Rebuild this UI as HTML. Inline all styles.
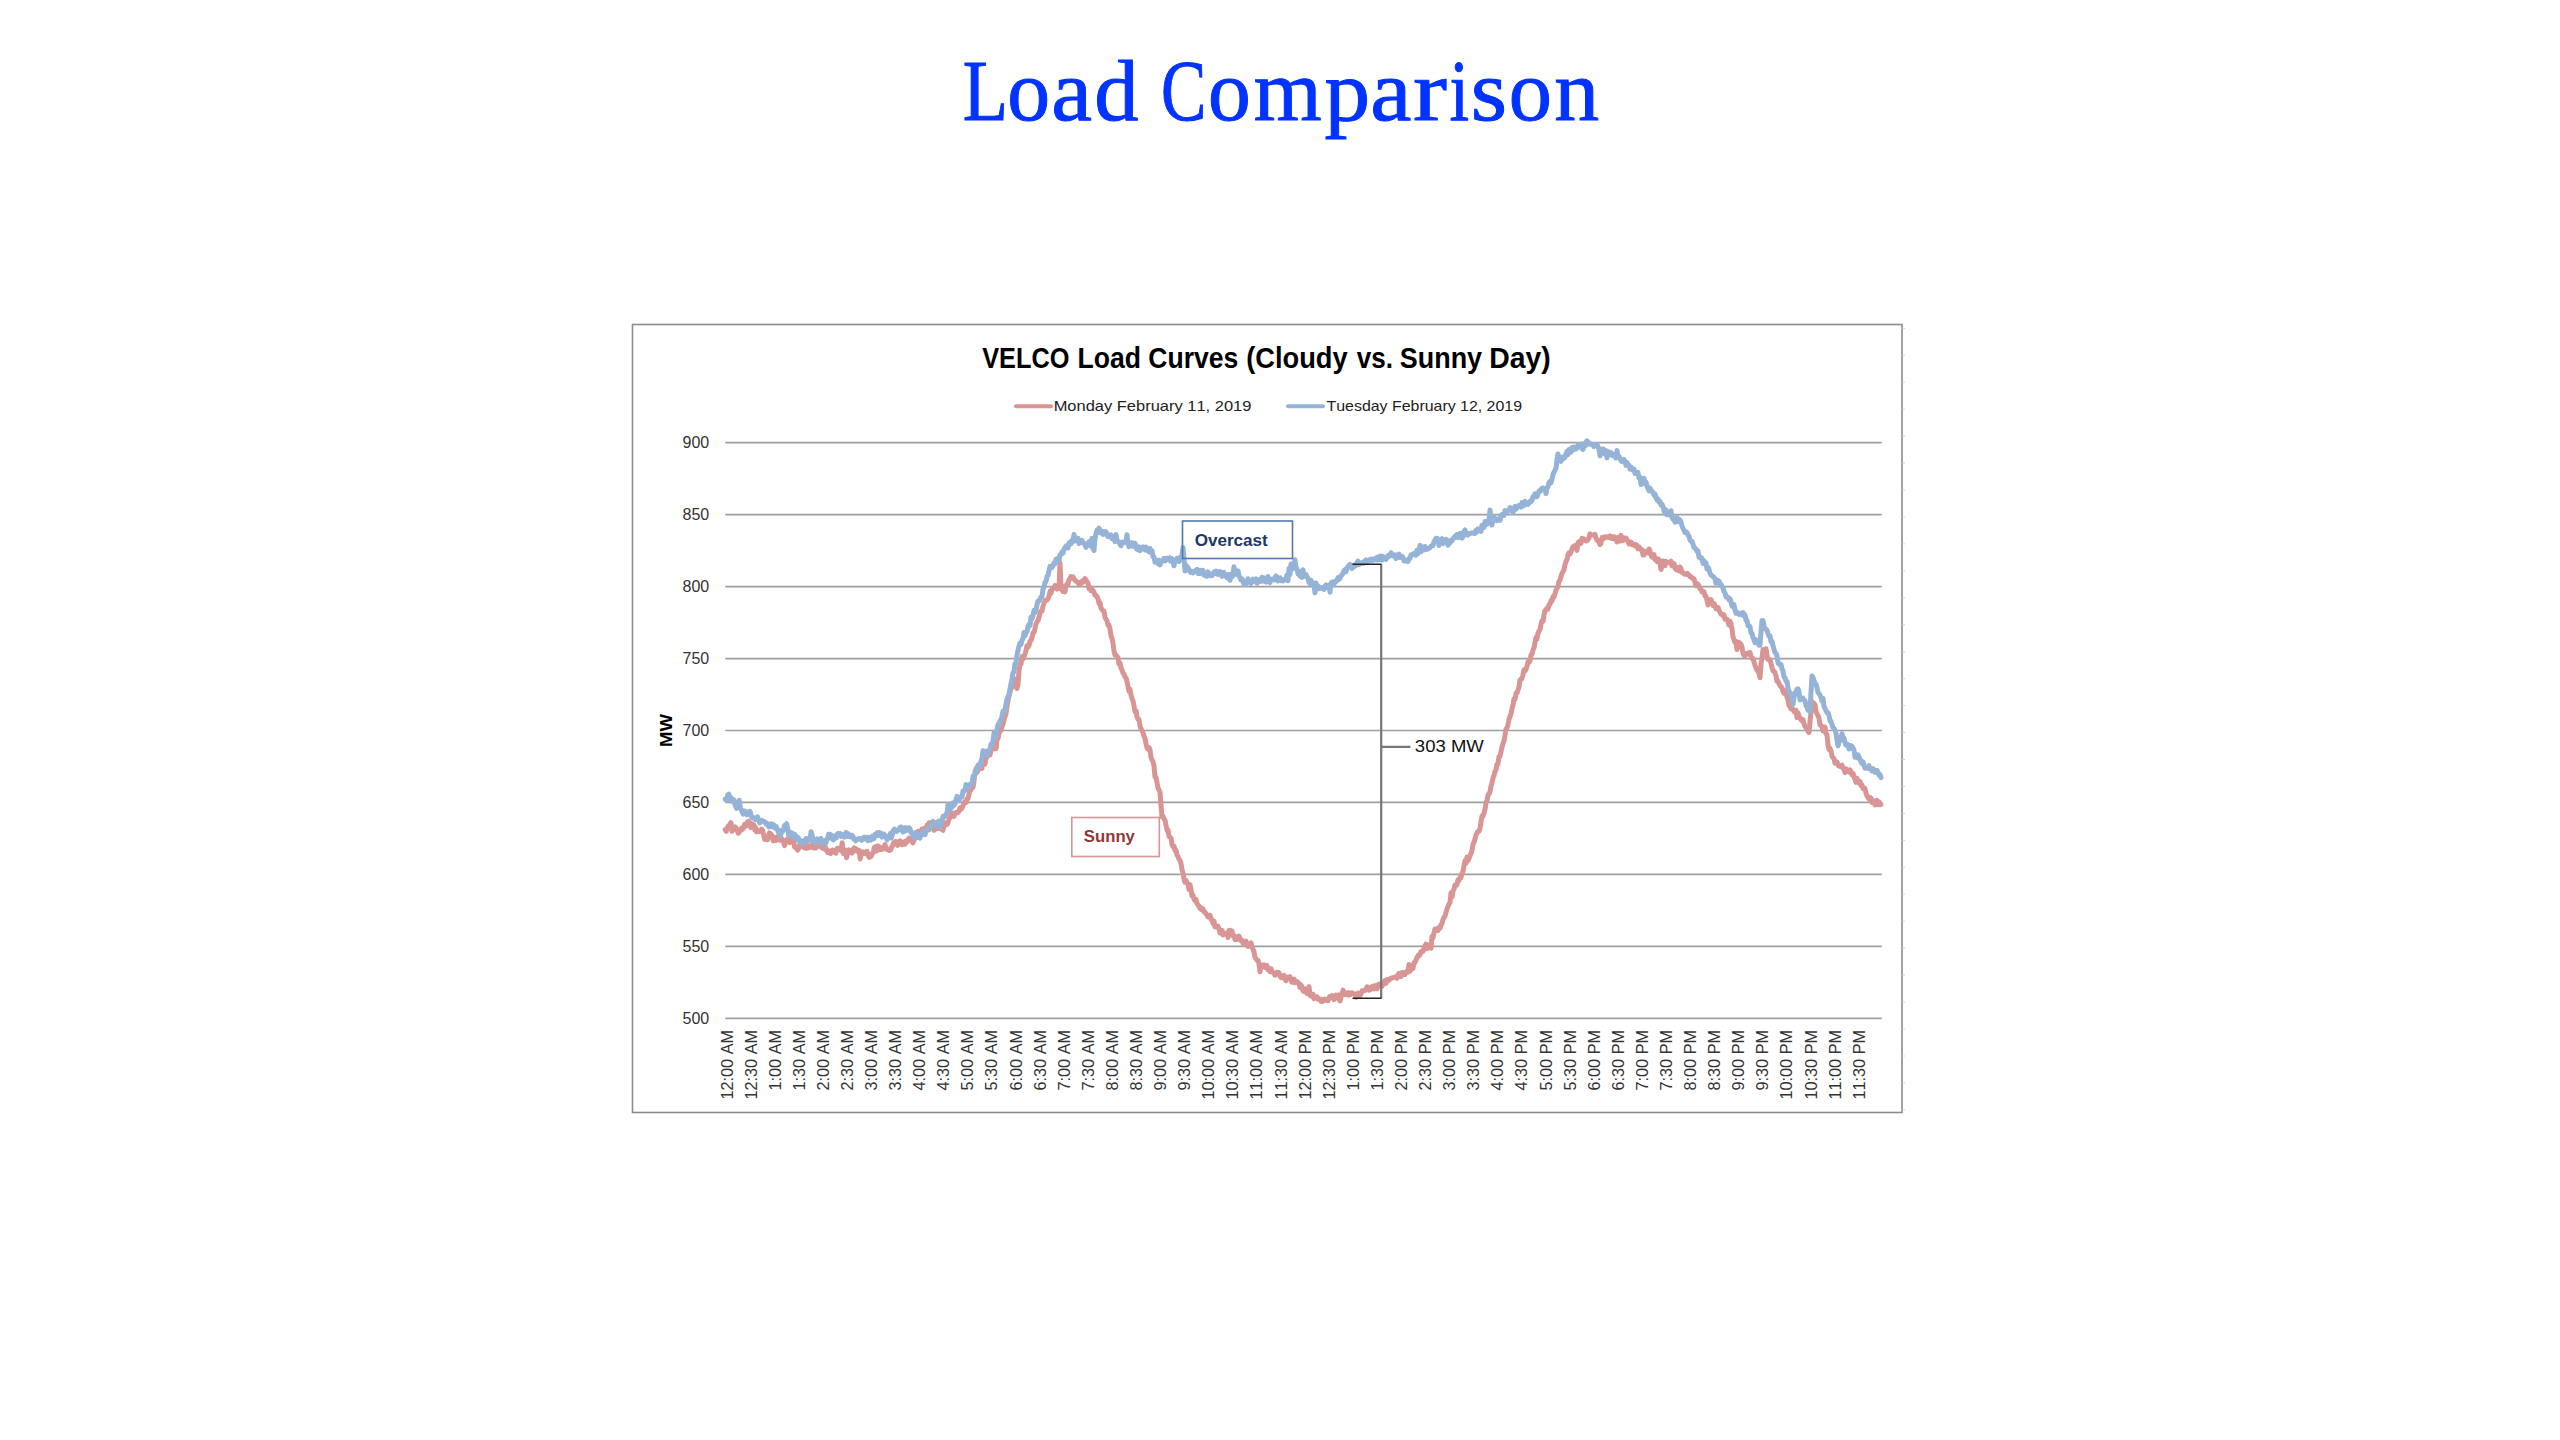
<!DOCTYPE html><html><head><meta charset="utf-8"><title>Load Comparison</title><style>html,body{margin:0;padding:0;background:#fff;}body{width:2560px;height:1440px;overflow:hidden;}svg{display:block;}text{font-family:"Liberation Sans",sans-serif;font-kerning:none;}</style></head><body>
<svg width="2560" height="1440" viewBox="0 0 2560 1440">
<rect x="0" y="0" width="2560" height="1440" fill="#fff"/>
<g><text transform="translate(962.86,120.2) scale(0.8484,1)" x="0" y="0" style="font-family:'Liberation Serif',serif" font-size="87.5" fill="#0033ff" stroke="#0033ff" stroke-width="1.0">L</text><text transform="translate(1007.34,120.2) scale(0.9788,1)" x="0" y="0" style="font-family:'Liberation Serif',serif" font-size="87.5" fill="#0033ff" stroke="#0033ff" stroke-width="1.0">o</text><text transform="translate(1051.18,120.2) scale(1.0473,1)" x="0" y="0" style="font-family:'Liberation Serif',serif" font-size="87.5" fill="#0033ff" stroke="#0033ff" stroke-width="1.0">a</text><text transform="translate(1094.30,120.2) scale(1.0121,1)" x="0" y="0" style="font-family:'Liberation Serif',serif" font-size="87.5" fill="#0033ff" stroke="#0033ff" stroke-width="1.0">d</text><text transform="translate(1160.97,120.2) scale(0.7759,1)" x="0" y="0" style="font-family:'Liberation Serif',serif" font-size="87.5" fill="#0033ff" stroke="#0033ff" stroke-width="1.0">C</text><text transform="translate(1207.99,120.2) scale(0.9775,1)" x="0" y="0" style="font-family:'Liberation Serif',serif" font-size="87.5" fill="#0033ff" stroke="#0033ff" stroke-width="1.0">o</text><text transform="translate(1253.67,120.2) scale(0.9976,1)" x="0" y="0" style="font-family:'Liberation Serif',serif" font-size="87.5" fill="#0033ff" stroke="#0033ff" stroke-width="1.0">m</text><text transform="translate(1324.53,120.2) scale(1.0431,1)" x="0" y="0" style="font-family:'Liberation Serif',serif" font-size="87.5" fill="#0033ff" stroke="#0033ff" stroke-width="1.0">p</text><text transform="translate(1370.34,120.2) scale(1.0589,1)" x="0" y="0" style="font-family:'Liberation Serif',serif" font-size="87.5" fill="#0033ff" stroke="#0033ff" stroke-width="1.0">a</text><text transform="translate(1412.96,120.2) scale(1.1647,1)" x="0" y="0" style="font-family:'Liberation Serif',serif" font-size="87.5" fill="#0033ff" stroke="#0033ff" stroke-width="1.0">r</text><text transform="translate(1449.52,120.2) scale(0.8074,1)" x="0" y="0" style="font-family:'Liberation Serif',serif" font-size="87.5" fill="#0033ff" stroke="#0033ff" stroke-width="1.0">i</text><text transform="translate(1470.77,120.2) scale(1.0659,1)" x="0" y="0" style="font-family:'Liberation Serif',serif" font-size="87.5" fill="#0033ff" stroke="#0033ff" stroke-width="1.0">s</text><text transform="translate(1508.81,120.2) scale(0.9869,1)" x="0" y="0" style="font-family:'Liberation Serif',serif" font-size="87.5" fill="#0033ff" stroke="#0033ff" stroke-width="1.0">o</text><text transform="translate(1554.34,120.2) scale(1.0268,1)" x="0" y="0" style="font-family:'Liberation Serif',serif" font-size="87.5" fill="#0033ff" stroke="#0033ff" stroke-width="1.0">n</text></g>
<rect x="632.5" y="324.5" width="1269.5" height="788" fill="#fff" stroke="#8c8c8c" stroke-width="1.6"/>
<path d="M1902,328.3 h3 M1902,355.2 h3 M1902,382.2 h3 M1902,409.1 h3 M1902,436.1 h3 M1902,463.1 h3 M1902,490.0 h3 M1902,517.0 h3 M1902,543.9 h3 M1902,570.9 h3 M1902,597.8 h3 M1902,624.8 h3 M1902,651.7 h3 M1902,678.6 h3 M1902,705.6 h3 M1902,732.5 h3 M1902,759.5 h3 M1902,786.5 h3 M1902,813.4 h3 M1902,840.3 h3 M1902,867.3 h3 M1902,894.2 h3 M1902,921.2 h3 M1902,948.2 h3 M1902,975.1 h3 M1902,1002.0 h3 M1902,1029.0 h3 M1902,1056.0 h3 M1902,1082.9 h3 M1902,1109.8 h3 " stroke="#d0d0d0" stroke-width="1" fill="none"/>
<text x="982.23" y="368.1" font-size="29" font-weight="bold" fill="#000" textLength="87.24" lengthAdjust="spacingAndGlyphs">VELCO</text>
<text x="1077.42" y="368.1" font-size="29" font-weight="bold" fill="#000" textLength="63.53" lengthAdjust="spacingAndGlyphs">Load</text>
<text x="1148.31" y="368.1" font-size="29" font-weight="bold" fill="#000" textLength="89.98" lengthAdjust="spacingAndGlyphs">Curves</text>
<text x="1246.14" y="368.1" font-size="29" font-weight="bold" fill="#000" textLength="101.50" lengthAdjust="spacingAndGlyphs">(Cloudy</text>
<text x="1356.80" y="368.1" font-size="29" font-weight="bold" fill="#000" textLength="36.25" lengthAdjust="spacingAndGlyphs">vs.</text>
<text x="1399.82" y="368.1" font-size="29" font-weight="bold" fill="#000" textLength="82.22" lengthAdjust="spacingAndGlyphs">Sunny</text>
<text x="1489.35" y="368.1" font-size="29" font-weight="bold" fill="#000" textLength="61.46" lengthAdjust="spacingAndGlyphs">Day)</text>
<line x1="1016" y1="406.3" x2="1051" y2="406.3" stroke="#d99594" stroke-width="4" stroke-linecap="round"/>
<text x="1053.65" y="410.6" font-size="14.5" fill="#222" textLength="197.73" lengthAdjust="spacingAndGlyphs">Monday February 11, 2019</text>
<line x1="1288" y1="406.3" x2="1323" y2="406.3" stroke="#95b3d7" stroke-width="4" stroke-linecap="round"/>
<text x="1326.54" y="410.6" font-size="14.5" fill="#222" textLength="195.46" lengthAdjust="spacingAndGlyphs">Tuesday February 12, 2019</text>
<path d="M725.3,442.70 H1881.8 M725.3,514.65 H1881.8 M725.3,586.60 H1881.8 M725.3,658.55 H1881.8 M725.3,730.50 H1881.8 M725.3,802.45 H1881.8 M725.3,874.40 H1881.8 M725.3,946.35 H1881.8 M725.3,1018.30 H1881.8 " stroke="#a0a0a0" stroke-width="1.7" fill="none"/>
<text x="709.2" y="448.3" text-anchor="end" font-size="16" fill="#333">900</text>
<text x="709.2" y="520.2" text-anchor="end" font-size="16" fill="#333">850</text>
<text x="709.2" y="592.2" text-anchor="end" font-size="16" fill="#333">800</text>
<text x="709.2" y="664.1" text-anchor="end" font-size="16" fill="#333">750</text>
<text x="709.2" y="736.1" text-anchor="end" font-size="16" fill="#333">700</text>
<text x="709.2" y="808.1" text-anchor="end" font-size="16" fill="#333">650</text>
<text x="709.2" y="880.0" text-anchor="end" font-size="16" fill="#333">600</text>
<text x="709.2" y="952.0" text-anchor="end" font-size="16" fill="#333">550</text>
<text x="709.2" y="1023.9" text-anchor="end" font-size="16" fill="#333">500</text>
<text transform="translate(672.2,730.5) rotate(-90)" text-anchor="middle" font-weight="bold" font-size="16.4" fill="#000" textLength="33" lengthAdjust="spacingAndGlyphs">MW</text>
<text transform="translate(732.50,1030) rotate(-90) scale(1.015,1)" text-anchor="end" font-size="16" fill="#333">12:00 AM</text>
<text transform="translate(756.59,1030) rotate(-90) scale(1.015,1)" text-anchor="end" font-size="16" fill="#333">12:30 AM</text>
<text transform="translate(780.68,1030) rotate(-90) scale(1.015,1)" text-anchor="end" font-size="16" fill="#333">1:00 AM</text>
<text transform="translate(804.77,1030) rotate(-90) scale(1.015,1)" text-anchor="end" font-size="16" fill="#333">1:30 AM</text>
<text transform="translate(828.86,1030) rotate(-90) scale(1.015,1)" text-anchor="end" font-size="16" fill="#333">2:00 AM</text>
<text transform="translate(852.95,1030) rotate(-90) scale(1.015,1)" text-anchor="end" font-size="16" fill="#333">2:30 AM</text>
<text transform="translate(877.04,1030) rotate(-90) scale(1.015,1)" text-anchor="end" font-size="16" fill="#333">3:00 AM</text>
<text transform="translate(901.13,1030) rotate(-90) scale(1.015,1)" text-anchor="end" font-size="16" fill="#333">3:30 AM</text>
<text transform="translate(925.22,1030) rotate(-90) scale(1.015,1)" text-anchor="end" font-size="16" fill="#333">4:00 AM</text>
<text transform="translate(949.31,1030) rotate(-90) scale(1.015,1)" text-anchor="end" font-size="16" fill="#333">4:30 AM</text>
<text transform="translate(973.40,1030) rotate(-90) scale(1.015,1)" text-anchor="end" font-size="16" fill="#333">5:00 AM</text>
<text transform="translate(997.49,1030) rotate(-90) scale(1.015,1)" text-anchor="end" font-size="16" fill="#333">5:30 AM</text>
<text transform="translate(1021.58,1030) rotate(-90) scale(1.015,1)" text-anchor="end" font-size="16" fill="#333">6:00 AM</text>
<text transform="translate(1045.67,1030) rotate(-90) scale(1.015,1)" text-anchor="end" font-size="16" fill="#333">6:30 AM</text>
<text transform="translate(1069.76,1030) rotate(-90) scale(1.015,1)" text-anchor="end" font-size="16" fill="#333">7:00 AM</text>
<text transform="translate(1093.85,1030) rotate(-90) scale(1.015,1)" text-anchor="end" font-size="16" fill="#333">7:30 AM</text>
<text transform="translate(1117.94,1030) rotate(-90) scale(1.015,1)" text-anchor="end" font-size="16" fill="#333">8:00 AM</text>
<text transform="translate(1142.03,1030) rotate(-90) scale(1.015,1)" text-anchor="end" font-size="16" fill="#333">8:30 AM</text>
<text transform="translate(1166.12,1030) rotate(-90) scale(1.015,1)" text-anchor="end" font-size="16" fill="#333">9:00 AM</text>
<text transform="translate(1190.21,1030) rotate(-90) scale(1.015,1)" text-anchor="end" font-size="16" fill="#333">9:30 AM</text>
<text transform="translate(1214.30,1030) rotate(-90) scale(1.015,1)" text-anchor="end" font-size="16" fill="#333">10:00 AM</text>
<text transform="translate(1238.39,1030) rotate(-90) scale(1.015,1)" text-anchor="end" font-size="16" fill="#333">10:30 AM</text>
<text transform="translate(1262.48,1030) rotate(-90) scale(1.015,1)" text-anchor="end" font-size="16" fill="#333">11:00 AM</text>
<text transform="translate(1286.57,1030) rotate(-90) scale(1.015,1)" text-anchor="end" font-size="16" fill="#333">11:30 AM</text>
<text transform="translate(1310.66,1030) rotate(-90) scale(1.015,1)" text-anchor="end" font-size="16" fill="#333">12:00 PM</text>
<text transform="translate(1334.75,1030) rotate(-90) scale(1.015,1)" text-anchor="end" font-size="16" fill="#333">12:30 PM</text>
<text transform="translate(1358.84,1030) rotate(-90) scale(1.015,1)" text-anchor="end" font-size="16" fill="#333">1:00 PM</text>
<text transform="translate(1382.93,1030) rotate(-90) scale(1.015,1)" text-anchor="end" font-size="16" fill="#333">1:30 PM</text>
<text transform="translate(1407.02,1030) rotate(-90) scale(1.015,1)" text-anchor="end" font-size="16" fill="#333">2:00 PM</text>
<text transform="translate(1431.11,1030) rotate(-90) scale(1.015,1)" text-anchor="end" font-size="16" fill="#333">2:30 PM</text>
<text transform="translate(1455.20,1030) rotate(-90) scale(1.015,1)" text-anchor="end" font-size="16" fill="#333">3:00 PM</text>
<text transform="translate(1479.29,1030) rotate(-90) scale(1.015,1)" text-anchor="end" font-size="16" fill="#333">3:30 PM</text>
<text transform="translate(1503.38,1030) rotate(-90) scale(1.015,1)" text-anchor="end" font-size="16" fill="#333">4:00 PM</text>
<text transform="translate(1527.47,1030) rotate(-90) scale(1.015,1)" text-anchor="end" font-size="16" fill="#333">4:30 PM</text>
<text transform="translate(1551.56,1030) rotate(-90) scale(1.015,1)" text-anchor="end" font-size="16" fill="#333">5:00 PM</text>
<text transform="translate(1575.65,1030) rotate(-90) scale(1.015,1)" text-anchor="end" font-size="16" fill="#333">5:30 PM</text>
<text transform="translate(1599.74,1030) rotate(-90) scale(1.015,1)" text-anchor="end" font-size="16" fill="#333">6:00 PM</text>
<text transform="translate(1623.83,1030) rotate(-90) scale(1.015,1)" text-anchor="end" font-size="16" fill="#333">6:30 PM</text>
<text transform="translate(1647.92,1030) rotate(-90) scale(1.015,1)" text-anchor="end" font-size="16" fill="#333">7:00 PM</text>
<text transform="translate(1672.01,1030) rotate(-90) scale(1.015,1)" text-anchor="end" font-size="16" fill="#333">7:30 PM</text>
<text transform="translate(1696.10,1030) rotate(-90) scale(1.015,1)" text-anchor="end" font-size="16" fill="#333">8:00 PM</text>
<text transform="translate(1720.19,1030) rotate(-90) scale(1.015,1)" text-anchor="end" font-size="16" fill="#333">8:30 PM</text>
<text transform="translate(1744.28,1030) rotate(-90) scale(1.015,1)" text-anchor="end" font-size="16" fill="#333">9:00 PM</text>
<text transform="translate(1768.37,1030) rotate(-90) scale(1.015,1)" text-anchor="end" font-size="16" fill="#333">9:30 PM</text>
<text transform="translate(1792.46,1030) rotate(-90) scale(1.015,1)" text-anchor="end" font-size="16" fill="#333">10:00 PM</text>
<text transform="translate(1816.55,1030) rotate(-90) scale(1.015,1)" text-anchor="end" font-size="16" fill="#333">10:30 PM</text>
<text transform="translate(1840.64,1030) rotate(-90) scale(1.015,1)" text-anchor="end" font-size="16" fill="#333">11:00 PM</text>
<text transform="translate(1864.73,1030) rotate(-90) scale(1.015,1)" text-anchor="end" font-size="16" fill="#333">11:30 PM</text>
<path d="M725.2,829.5 L726.2,831.3 L727.1,828.8 L728.1,826.0 L729.1,827.2 L730.1,824.0 L731.0,822.7 L732.0,831.3 L733.0,830.0 L734.1,829.1 L735.1,826.9 L736.1,828.0 L737.2,830.0 L738.2,833.2 L739.2,832.1 L740.3,830.3 L741.4,828.3 L742.4,829.4 L743.4,828.2 L744.5,824.5 L745.5,826.3 L746.6,823.2 L747.6,821.9 L748.6,821.2 L749.7,825.7 L750.8,827.6 L751.8,823.6 L752.9,827.2 L753.9,824.7 L754.8,830.1 L755.7,827.6 L756.6,831.9 L757.5,830.4 L758.5,830.7 L759.6,831.7 L760.7,831.0 L761.7,829.1 L762.7,830.6 L763.8,835.9 L764.8,839.5 L765.8,839.6 L766.7,839.0 L767.6,839.7 L768.6,834.7 L769.5,832.9 L770.4,833.7 L771.4,834.6 L772.3,836.4 L773.3,840.9 L774.2,840.6 L775.1,837.6 L776.1,840.5 L777.0,837.1 L778.0,838.6 L778.9,835.6 L779.9,840.2 L780.8,839.7 L781.8,838.7 L782.7,840.7 L783.6,842.3 L784.6,845.6 L785.6,842.1 L786.7,839.6 L787.7,840.5 L788.8,839.8 L789.7,842.6 L790.7,839.1 L791.7,837.4 L792.7,841.7 L793.7,842.0 L794.6,847.1 L795.6,847.6 L796.6,848.2 L797.6,850.2 L798.5,848.9 L799.5,844.8 L800.4,846.4 L801.4,845.7 L802.3,844.1 L803.3,847.3 L804.3,847.8 L805.4,848.1 L806.4,845.7 L807.5,848.1 L808.5,845.9 L809.6,847.7 L810.6,846.7 L811.7,846.2 L812.7,843.2 L813.8,848.0 L814.8,847.8 L815.9,848.1 L816.9,846.8 L818.0,844.9 L819.0,844.5 L820.1,846.1 L821.3,847.1 L822.4,848.0 L823.6,844.4 L824.7,849.3 L825.7,847.7 L826.7,850.4 L827.7,852.5 L828.6,852.0 L829.6,851.0 L830.6,853.7 L831.6,851.1 L832.7,850.0 L833.8,850.5 L834.8,852.4 L835.9,853.1 L836.9,848.8 L838.0,848.2 L839.0,848.7 L840.1,849.0 L841.1,850.7 L842.2,842.7 L843.3,853.6 L844.4,852.6 L845.5,850.1 L846.6,857.8 L847.7,852.7 L848.8,849.9 L849.9,850.7 L851.0,851.3 L852.1,853.1 L853.1,849.3 L854.2,847.9 L855.2,850.8 L856.3,848.9 L857.3,851.2 L858.3,851.4 L859.2,850.5 L860.2,858.9 L861.2,854.2 L862.2,851.8 L863.1,853.8 L864.1,852.3 L865.0,853.3 L866.0,851.7 L867.1,851.4 L868.3,855.9 L869.4,857.4 L870.4,856.8 L871.4,855.9 L872.3,853.5 L873.3,852.4 L874.3,847.2 L875.3,846.8 L876.4,851.1 L877.4,846.1 L878.5,846.0 L879.5,849.8 L880.6,847.4 L881.7,849.4 L882.8,849.1 L883.9,847.5 L885.0,844.5 L886.0,847.3 L887.0,849.6 L887.9,849.6 L888.9,850.5 L889.9,850.4 L890.8,849.9 L891.8,847.0 L892.8,845.1 L893.7,842.9 L894.7,843.9 L895.7,841.4 L896.6,843.5 L897.6,845.3 L898.8,843.7 L900.0,840.8 L901.0,841.9 L902.0,844.8 L903.0,842.7 L904.0,841.9 L905.0,844.1 L906.0,841.1 L907.0,842.0 L908.0,839.3 L909.0,838.1 L910.0,838.7 L911.0,839.7 L912.0,841.7 L913.0,842.9 L914.0,840.2 L915.0,836.7 L916.0,835.9 L917.0,834.3 L918.0,831.2 L919.0,832.9 L920.0,832.1 L921.0,831.9 L922.0,829.2 L923.0,831.3 L924.0,828.5 L925.0,830.8 L926.0,830.8 L927.0,825.4 L928.0,826.8 L929.0,822.9 L930.0,823.2 L931.0,822.7 L932.0,822.6 L933.0,827.1 L934.0,830.3 L935.0,829.2 L936.0,828.9 L937.0,822.2 L938.0,825.2 L939.0,828.5 L940.0,827.3 L941.0,826.3 L942.0,829.6 L943.0,830.3 L944.0,825.7 L945.0,823.1 L946.0,822.6 L947.0,824.6 L948.0,822.8 L949.0,819.3 L950.0,817.4 L951.0,815.1 L952.0,813.0 L953.0,816.2 L954.0,816.4 L955.0,813.2 L956.0,812.2 L957.0,812.8 L958.0,812.7 L959.0,811.1 L960.0,807.9 L961.0,809.3 L962.0,808.3 L963.0,805.6 L964.0,802.6 L965.0,801.7 L966.0,802.4 L967.0,798.7 L968.0,798.6 L969.0,794.4 L970.0,789.3 L971.0,789.7 L972.0,786.5 L973.0,787.2 L974.0,781.5 L975.0,771.9 L976.0,768.9 L977.0,772.6 L978.0,769.3 L979.0,767.1 L980.0,765.2 L981.0,761.0 L982.0,768.4 L983.0,760.2 L984.0,757.6 L985.0,764.2 L986.0,758.1 L987.0,757.2 L988.0,754.5 L989.0,754.8 L990.0,755.0 L991.0,749.5 L992.0,747.1 L993.0,749.1 L994.0,748.8 L995.0,742.6 L996.0,748.8 L997.0,739.7 L998.0,738.4 L999.0,733.4 L1000.0,731.0 L1001.0,730.4 L1002.0,726.5 L1003.0,724.1 L1004.0,720.0 L1005.0,716.6 L1006.0,713.6 L1007.0,706.1 L1008.0,700.9 L1009.0,695.8 L1010.0,692.5 L1011.0,686.9 L1012.0,687.6 L1013.0,684.5 L1014.0,680.2 L1015.0,679.1 L1016.0,685.3 L1017.0,688.5 L1018.0,684.5 L1019.0,671.2 L1020.0,664.6 L1021.0,664.3 L1022.0,656.5 L1023.0,658.9 L1024.0,657.1 L1025.0,653.9 L1026.0,650.5 L1027.0,645.7 L1028.0,647.4 L1029.0,645.5 L1030.0,641.2 L1031.0,640.4 L1032.0,637.4 L1033.0,633.0 L1034.0,632.4 L1035.0,628.5 L1036.0,623.9 L1037.0,621.7 L1038.0,620.6 L1039.0,617.3 L1040.0,613.5 L1041.0,610.9 L1042.0,611.0 L1043.0,606.2 L1044.0,603.3 L1045.0,600.5 L1046.0,600.5 L1047.0,600.1 L1048.0,598.5 L1049.0,596.1 L1050.0,591.4 L1051.0,593.3 L1052.0,589.2 L1053.0,588.3 L1054.0,587.5 L1055.0,585.5 L1056.0,588.4 L1057.0,589.0 L1058.0,585.4 L1059.0,588.4 L1060.0,562.8 L1061.0,585.8 L1062.0,589.8 L1063.0,591.4 L1064.0,586.7 L1065.0,591.9 L1066.0,586.6 L1067.0,583.9 L1068.0,584.1 L1069.0,579.8 L1070.0,578.6 L1071.0,576.6 L1072.0,578.0 L1073.0,576.8 L1074.0,578.5 L1075.0,580.5 L1076.0,581.0 L1077.0,581.9 L1078.0,582.6 L1079.0,584.1 L1080.0,582.6 L1081.0,583.4 L1082.0,581.2 L1083.0,582.2 L1084.0,580.2 L1085.0,578.6 L1086.0,580.7 L1087.0,581.4 L1088.0,583.3 L1089.0,588.8 L1090.0,587.5 L1091.0,590.8 L1092.0,589.4 L1093.0,590.8 L1094.0,592.2 L1095.0,595.3 L1096.0,595.2 L1097.0,596.5 L1098.0,598.9 L1099.0,603.5 L1100.0,602.7 L1101.0,608.3 L1102.0,609.3 L1103.0,611.1 L1104.0,611.1 L1105.0,617.2 L1106.0,619.3 L1107.0,620.6 L1108.0,625.3 L1109.0,625.0 L1110.0,629.2 L1111.0,636.0 L1112.0,638.2 L1113.0,643.3 L1114.0,651.0 L1115.0,655.1 L1116.0,655.1 L1117.0,656.3 L1118.0,657.5 L1119.0,664.1 L1120.0,663.0 L1121.0,668.0 L1122.0,669.9 L1123.0,673.0 L1124.0,674.0 L1125.0,676.9 L1126.0,678.1 L1127.0,681.4 L1128.0,686.2 L1129.0,691.3 L1130.0,689.3 L1131.0,695.2 L1132.0,698.6 L1133.0,700.7 L1134.0,705.8 L1135.0,711.7 L1136.0,710.7 L1137.0,716.7 L1138.0,719.5 L1139.0,719.4 L1140.0,726.1 L1141.0,728.9 L1142.0,730.5 L1143.0,732.8 L1144.0,736.2 L1145.0,738.5 L1146.0,743.5 L1147.0,747.6 L1148.0,749.2 L1149.0,747.5 L1150.0,749.8 L1151.0,757.1 L1152.0,760.1 L1153.0,761.4 L1154.0,766.0 L1155.0,776.9 L1156.0,777.5 L1157.0,782.4 L1158.0,787.9 L1159.0,790.0 L1160.0,792.3 L1161.0,805.5 L1162.0,816.7 L1163.0,816.3 L1164.0,818.9 L1165.0,820.1 L1166.0,825.1 L1167.0,830.2 L1168.0,830.0 L1169.0,836.4 L1170.0,837.1 L1171.0,838.0 L1172.0,844.7 L1173.0,846.6 L1174.0,846.2 L1175.0,850.4 L1176.0,850.3 L1177.0,855.0 L1178.0,856.6 L1179.0,859.1 L1180.0,860.3 L1181.0,863.6 L1182.0,869.3 L1183.0,873.3 L1184.0,878.8 L1185.0,882.2 L1186.0,880.4 L1187.0,882.5 L1188.0,884.3 L1189.0,889.5 L1190.0,884.6 L1191.0,889.2 L1192.0,895.8 L1193.0,895.3 L1194.0,899.2 L1195.0,900.7 L1196.0,899.5 L1197.0,903.3 L1198.0,905.2 L1199.0,906.1 L1200.0,908.3 L1201.0,909.3 L1202.0,908.2 L1203.0,909.0 L1204.0,912.0 L1205.0,912.0 L1206.0,913.9 L1207.0,915.1 L1208.0,917.0 L1209.0,917.0 L1210.0,915.1 L1211.0,919.2 L1212.0,919.6 L1213.0,923.3 L1214.0,921.0 L1215.0,926.8 L1216.0,927.1 L1217.0,926.6 L1218.0,926.2 L1219.0,929.2 L1220.0,933.0 L1221.0,931.7 L1222.0,930.3 L1223.0,934.9 L1224.0,934.5 L1225.0,933.9 L1226.0,933.4 L1227.0,933.0 L1228.0,937.5 L1229.0,930.4 L1230.0,930.2 L1231.0,931.1 L1232.0,931.0 L1233.0,936.0 L1234.0,935.5 L1235.0,939.7 L1236.0,936.7 L1237.0,939.5 L1238.0,937.5 L1239.0,936.1 L1240.0,939.1 L1241.0,940.8 L1242.0,940.2 L1243.0,943.4 L1244.0,941.4 L1245.0,942.1 L1246.0,941.2 L1247.0,944.7 L1248.0,946.3 L1249.0,945.6 L1250.0,945.4 L1251.0,942.9 L1252.0,947.1 L1253.0,949.3 L1254.0,951.8 L1255.0,957.3 L1256.0,958.9 L1257.0,960.3 L1258.0,960.3 L1259.0,963.7 L1260.0,971.8 L1261.0,966.1 L1262.0,967.0 L1263.0,964.9 L1264.0,964.8 L1265.0,967.5 L1266.0,965.9 L1267.0,965.5 L1268.0,969.7 L1269.0,970.2 L1270.0,971.7 L1271.0,968.7 L1272.0,971.3 L1273.0,972.6 L1274.0,972.7 L1275.0,975.2 L1276.0,974.1 L1277.0,972.3 L1278.0,972.2 L1279.0,972.8 L1280.0,976.1 L1281.0,977.5 L1282.0,976.7 L1283.0,977.5 L1284.0,975.3 L1285.0,979.1 L1286.0,980.7 L1287.0,977.2 L1288.0,978.3 L1289.0,977.7 L1290.0,976.7 L1291.0,979.8 L1292.0,982.2 L1293.0,979.7 L1294.0,979.2 L1295.0,982.8 L1296.0,982.1 L1297.0,981.6 L1298.0,982.5 L1299.0,983.2 L1300.0,987.5 L1301.0,984.9 L1302.0,986.8 L1303.0,991.0 L1304.0,991.5 L1305.0,988.9 L1306.0,988.9 L1307.0,993.5 L1308.0,992.3 L1309.0,986.8 L1310.0,995.3 L1311.0,996.1 L1312.0,994.2 L1313.0,994.3 L1314.0,998.7 L1315.0,996.8 L1316.0,996.9 L1317.0,996.7 L1318.0,999.2 L1319.0,999.4 L1320.0,999.0 L1321.0,1001.3 L1322.0,1001.7 L1323.0,999.7 L1324.0,1000.6 L1325.0,999.2 L1326.0,1000.0 L1327.0,999.7 L1328.0,1000.7 L1329.0,998.0 L1330.0,996.5 L1331.0,997.5 L1332.0,995.5 L1333.0,996.2 L1334.0,999.6 L1335.0,996.4 L1336.0,995.2 L1337.0,996.1 L1338.0,998.3 L1339.0,994.9 L1340.0,1001.1 L1341.0,996.8 L1342.0,995.3 L1343.0,990.1 L1344.0,992.8 L1345.0,994.6 L1346.0,993.1 L1347.0,993.2 L1348.0,995.1 L1349.0,992.7 L1350.0,994.8 L1351.0,993.6 L1352.0,992.7 L1353.0,993.3 L1354.0,993.6 L1355.0,994.9 L1356.0,997.2 L1357.0,995.9 L1358.0,993.0 L1359.0,994.7 L1360.0,996.0 L1361.0,993.6 L1362.0,990.8 L1363.0,991.0 L1364.0,990.4 L1365.0,990.5 L1366.0,989.0 L1367.0,986.8 L1368.0,989.1 L1369.0,990.2 L1370.0,989.9 L1371.0,986.9 L1372.0,986.8 L1373.0,986.2 L1374.0,988.8 L1375.0,987.8 L1376.0,985.3 L1377.0,988.9 L1378.0,985.7 L1379.0,984.1 L1380.0,985.5 L1381.0,983.9 L1382.0,986.2 L1383.0,984.4 L1384.0,982.3 L1385.0,980.6 L1386.0,983.5 L1387.0,979.5 L1388.0,981.0 L1389.0,980.3 L1390.0,978.9 L1391.0,978.2 L1392.0,978.0 L1393.0,977.6 L1394.0,977.4 L1395.0,976.9 L1396.0,976.6 L1397.0,978.3 L1398.0,974.8 L1399.0,973.5 L1400.0,974.9 L1401.0,976.6 L1402.0,972.5 L1403.0,973.3 L1404.0,972.7 L1405.0,974.5 L1406.0,971.8 L1407.0,971.4 L1408.0,972.1 L1409.0,964.4 L1410.0,971.2 L1411.0,969.5 L1412.0,968.0 L1413.0,968.4 L1414.0,962.7 L1415.0,962.6 L1416.0,960.3 L1417.0,957.4 L1418.0,955.6 L1419.0,955.9 L1420.0,954.7 L1421.0,951.6 L1422.0,951.3 L1423.0,951.4 L1424.0,948.2 L1425.0,946.0 L1426.0,944.2 L1427.0,948.6 L1428.0,944.8 L1429.0,945.4 L1430.0,945.1 L1431.0,948.3 L1432.0,936.5 L1433.0,938.0 L1434.0,932.8 L1435.0,929.0 L1436.0,930.3 L1437.0,928.8 L1438.0,930.5 L1439.0,927.7 L1440.0,928.3 L1441.0,924.8 L1442.0,923.5 L1443.0,919.7 L1444.0,917.3 L1445.0,916.1 L1446.0,912.5 L1447.0,908.9 L1448.0,906.4 L1449.0,904.2 L1450.0,902.5 L1451.0,892.7 L1452.0,897.1 L1453.0,891.0 L1454.0,889.3 L1455.0,884.9 L1456.0,884.5 L1457.0,884.9 L1458.0,879.7 L1459.0,880.6 L1460.0,877.4 L1461.0,877.6 L1462.0,873.1 L1463.0,871.6 L1464.0,865.4 L1465.0,860.7 L1466.0,863.3 L1467.0,857.1 L1468.0,860.6 L1469.0,858.4 L1470.0,855.8 L1471.0,853.4 L1472.0,850.6 L1473.0,844.2 L1474.0,842.4 L1475.0,839.1 L1476.0,835.0 L1477.0,833.1 L1478.0,831.3 L1479.0,831.2 L1480.0,828.0 L1481.0,822.2 L1482.0,816.1 L1483.0,816.3 L1484.0,813.3 L1485.0,809.3 L1486.0,802.9 L1487.0,800.3 L1488.0,795.4 L1489.0,793.9 L1490.0,791.8 L1491.0,786.4 L1492.0,782.9 L1493.0,778.1 L1494.0,775.8 L1495.0,771.2 L1496.0,769.9 L1497.0,764.3 L1498.0,763.8 L1499.0,756.5 L1500.0,756.4 L1501.0,751.4 L1502.0,747.4 L1503.0,743.4 L1504.0,740.9 L1505.0,735.4 L1506.0,729.2 L1507.0,728.0 L1508.0,724.6 L1509.0,719.4 L1510.0,716.5 L1511.0,714.0 L1512.0,708.5 L1513.0,705.1 L1514.0,699.0 L1515.0,699.3 L1516.0,693.2 L1517.0,693.1 L1518.0,689.8 L1519.0,687.2 L1520.0,680.0 L1521.0,679.3 L1522.0,678.4 L1523.0,674.8 L1524.0,669.9 L1525.0,670.7 L1526.0,669.6 L1527.0,666.2 L1528.0,661.9 L1529.0,662.5 L1530.0,660.9 L1531.0,654.8 L1532.0,654.3 L1533.0,650.0 L1534.0,647.9 L1535.0,642.5 L1536.0,637.6 L1537.0,639.0 L1538.0,633.0 L1539.0,631.1 L1540.0,629.8 L1541.0,623.9 L1542.0,620.8 L1543.0,621.3 L1544.0,615.0 L1545.0,610.4 L1546.0,609.9 L1547.0,608.3 L1548.0,609.0 L1549.0,604.7 L1550.0,604.4 L1551.0,600.6 L1552.0,600.8 L1553.0,596.9 L1554.0,597.1 L1555.0,593.6 L1556.0,590.3 L1557.0,588.3 L1558.0,586.3 L1559.0,581.3 L1560.0,580.3 L1561.0,576.8 L1562.0,573.2 L1563.0,572.0 L1564.0,569.5 L1565.0,564.6 L1566.0,561.4 L1567.0,559.9 L1568.0,554.7 L1569.0,552.8 L1570.0,554.1 L1571.0,552.4 L1572.0,548.8 L1573.0,546.7 L1574.0,546.0 L1575.0,545.6 L1576.0,547.4 L1577.0,550.4 L1578.0,542.6 L1579.0,541.7 L1580.0,542.3 L1581.0,543.3 L1582.0,538.3 L1583.0,539.3 L1584.0,539.0 L1585.0,539.6 L1586.0,540.9 L1587.0,540.8 L1588.0,539.5 L1589.0,538.1 L1590.0,533.9 L1591.0,535.3 L1592.0,534.9 L1593.0,535.1 L1594.0,535.1 L1595.0,534.4 L1596.0,538.3 L1597.0,539.9 L1598.0,540.9 L1599.0,541.2 L1600.0,544.5 L1601.0,543.0 L1602.0,537.6 L1603.0,539.2 L1604.0,537.2 L1605.0,537.7 L1606.0,536.8 L1607.0,536.7 L1608.0,537.4 L1609.0,537.2 L1610.0,536.0 L1611.0,538.0 L1612.0,538.6 L1613.0,536.8 L1614.0,536.8 L1615.0,538.9 L1616.0,539.9 L1617.0,542.0 L1618.0,537.4 L1619.0,540.9 L1620.0,541.1 L1621.0,535.4 L1622.0,538.1 L1623.0,540.6 L1624.0,538.1 L1625.0,537.9 L1626.0,538.2 L1627.0,539.6 L1628.0,541.8 L1629.0,543.9 L1630.0,542.1 L1631.0,542.1 L1632.0,544.7 L1633.0,543.9 L1634.0,545.1 L1635.0,545.9 L1636.0,544.7 L1637.0,545.3 L1638.0,548.8 L1639.0,546.8 L1640.0,549.3 L1641.0,549.4 L1642.0,549.8 L1643.0,555.0 L1644.0,555.0 L1645.0,553.2 L1646.0,551.4 L1647.0,552.7 L1648.0,552.7 L1649.0,549.0 L1650.0,550.9 L1651.0,555.2 L1652.0,557.2 L1653.0,555.3 L1654.0,554.7 L1655.0,559.4 L1656.0,558.4 L1657.0,561.6 L1658.0,559.0 L1659.0,559.3 L1660.0,562.9 L1661.0,569.5 L1662.0,565.8 L1663.0,561.0 L1664.0,562.3 L1665.0,565.7 L1666.0,561.4 L1667.0,562.5 L1668.0,562.4 L1669.0,562.7 L1670.0,562.1 L1671.0,561.2 L1672.0,565.7 L1673.0,565.5 L1674.0,563.6 L1675.0,568.2 L1676.0,569.5 L1677.0,567.4 L1678.0,569.8 L1679.0,570.9 L1680.0,567.0 L1681.0,568.7 L1682.0,572.6 L1683.0,572.7 L1684.0,573.7 L1685.0,574.3 L1686.0,574.2 L1687.0,573.4 L1688.0,573.8 L1689.0,575.4 L1690.0,576.6 L1691.0,576.6 L1692.0,578.1 L1693.0,578.4 L1694.0,578.8 L1695.0,582.4 L1696.0,585.6 L1697.0,583.6 L1698.0,584.3 L1699.0,586.0 L1700.0,589.1 L1701.0,589.1 L1702.0,592.0 L1703.0,591.7 L1704.0,591.7 L1705.0,596.1 L1706.0,596.3 L1707.0,600.4 L1708.0,604.9 L1709.0,599.7 L1710.0,601.1 L1711.0,599.7 L1712.0,602.4 L1713.0,605.4 L1714.0,603.5 L1715.0,605.6 L1716.0,608.6 L1717.0,607.5 L1718.0,607.4 L1719.0,610.2 L1720.0,612.3 L1721.0,614.3 L1722.0,614.1 L1723.0,615.9 L1724.0,614.9 L1725.0,619.1 L1726.0,618.7 L1727.0,619.2 L1728.0,621.9 L1729.0,625.1 L1730.0,621.2 L1731.0,624.1 L1732.0,629.0 L1733.0,636.7 L1734.0,639.8 L1735.0,642.2 L1736.0,641.4 L1737.0,649.6 L1738.0,643.3 L1739.0,642.4 L1740.0,643.5 L1741.0,644.3 L1742.0,647.0 L1743.0,653.2 L1744.0,655.4 L1745.0,655.9 L1746.0,653.5 L1747.0,653.9 L1748.0,653.1 L1749.0,654.2 L1750.0,652.5 L1751.0,656.3 L1752.0,658.3 L1753.0,658.5 L1754.0,661.9 L1755.0,665.3 L1756.0,667.9 L1757.0,670.3 L1758.0,671.1 L1759.0,673.3 L1760.0,677.8 L1761.0,663.9 L1762.0,658.3 L1763.0,649.5 L1764.0,650.2 L1765.0,650.7 L1766.0,648.8 L1767.0,655.9 L1768.0,659.5 L1769.0,659.5 L1770.0,659.8 L1771.0,663.2 L1772.0,667.3 L1773.0,670.9 L1774.0,671.2 L1775.0,673.0 L1776.0,675.8 L1777.0,681.2 L1778.0,681.3 L1779.0,683.5 L1780.0,685.9 L1781.0,686.5 L1782.0,688.0 L1783.0,691.4 L1784.0,693.3 L1785.0,690.6 L1786.0,693.5 L1787.0,697.2 L1788.0,699.9 L1789.0,705.6 L1790.0,706.0 L1791.0,709.0 L1792.0,708.2 L1793.0,709.2 L1794.0,711.6 L1795.0,712.4 L1796.0,710.3 L1797.0,717.6 L1798.0,712.9 L1799.0,716.3 L1800.0,717.7 L1801.0,719.9 L1802.0,720.7 L1803.0,719.7 L1804.0,723.7 L1805.0,726.4 L1806.0,727.8 L1807.0,728.6 L1808.0,731.4 L1809.0,732.5 L1810.0,722.1 L1811.0,712.6 L1812.0,701.5 L1813.0,703.5 L1814.0,703.2 L1815.0,704.8 L1816.0,711.4 L1817.0,713.7 L1818.0,715.6 L1819.0,718.2 L1820.0,724.8 L1821.0,725.5 L1822.0,726.5 L1823.0,730.9 L1824.0,728.4 L1825.0,727.2 L1826.0,733.7 L1827.0,734.8 L1828.0,745.0 L1829.0,749.4 L1830.0,748.5 L1831.0,750.9 L1832.0,756.0 L1833.0,757.6 L1834.0,758.5 L1835.0,763.1 L1836.0,761.7 L1837.0,762.0 L1838.0,765.0 L1839.0,766.1 L1840.0,766.4 L1841.0,765.6 L1842.0,765.2 L1843.0,768.5 L1844.0,769.4 L1845.0,772.6 L1846.0,768.8 L1847.0,769.8 L1848.0,771.3 L1849.0,772.0 L1850.0,769.8 L1851.0,771.7 L1852.0,774.9 L1853.0,773.3 L1854.0,776.0 L1855.0,780.0 L1856.0,782.3 L1857.0,778.4 L1858.0,781.2 L1859.0,783.0 L1860.0,781.3 L1861.0,785.4 L1862.0,785.1 L1863.0,788.4 L1864.0,787.8 L1865.0,788.4 L1866.0,793.1 L1867.0,796.0 L1868.0,797.4 L1869.0,799.1 L1870.0,797.4 L1871.0,798.2 L1872.0,802.4 L1873.0,800.6 L1874.0,802.3 L1875.0,805.0 L1876.0,800.8 L1877.0,800.4 L1878.0,804.6 L1879.0,801.9 L1880.0,804.7 L1881.0,804.6" stroke="#d99594" stroke-width="5.0" fill="none" stroke-linejoin="round" stroke-linecap="round"/>
<path d="M725.2,799.1 L726.1,800.3 L726.9,797.9 L727.8,794.9 L728.8,794.1 L729.9,799.4 L730.9,797.5 L732.0,801.4 L733.0,799.5 L733.9,800.0 L734.7,803.8 L735.6,806.0 L736.5,808.3 L737.3,806.4 L738.2,803.7 L739.2,800.2 L740.3,808.4 L741.4,809.8 L742.4,812.6 L743.3,814.1 L744.2,811.0 L745.1,811.4 L746.0,812.2 L747.0,814.7 L748.1,812.8 L749.1,811.7 L750.2,811.5 L751.2,816.1 L752.3,818.0 L753.4,817.9 L754.4,817.8 L755.5,819.7 L756.5,818.6 L757.5,816.9 L758.6,820.5 L759.6,822.9 L760.7,821.8 L761.7,820.4 L762.7,821.2 L763.8,821.2 L764.8,822.0 L765.9,824.0 L766.9,823.1 L767.9,825.2 L768.9,826.9 L770.0,824.1 L771.0,823.9 L772.0,826.9 L773.1,824.4 L774.1,825.2 L775.2,828.2 L776.2,826.5 L777.3,829.1 L778.3,832.3 L779.4,830.4 L780.4,835.9 L781.5,832.3 L782.5,831.5 L783.5,829.7 L784.6,825.5 L785.6,828.3 L786.7,823.6 L787.7,828.4 L788.7,835.8 L789.8,834.2 L790.8,832.4 L791.9,833.0 L792.9,836.2 L793.9,835.7 L794.9,834.4 L796.0,836.3 L797.0,840.2 L798.0,837.4 L799.1,839.7 L800.1,840.9 L801.2,843.3 L802.2,842.5 L803.3,840.8 L804.3,842.1 L805.2,842.0 L806.2,838.5 L807.2,841.5 L808.2,840.7 L809.1,839.8 L810.1,838.0 L811.1,831.7 L812.2,835.5 L813.2,840.7 L814.3,842.3 L815.3,843.4 L816.4,840.3 L817.3,839.0 L818.2,840.8 L819.1,842.0 L820.0,840.9 L820.9,838.3 L821.9,842.8 L822.8,843.3 L823.8,840.8 L824.7,841.6 L825.7,843.4 L826.7,839.3 L827.6,838.9 L828.6,834.2 L829.6,837.8 L830.5,834.4 L831.5,838.3 L832.5,835.6 L833.4,839.9 L834.4,837.6 L835.4,838.3 L836.4,837.9 L837.3,833.9 L838.3,833.3 L839.3,834.5 L840.3,833.6 L841.3,836.3 L842.2,834.5 L843.2,836.6 L844.2,837.2 L845.2,835.3 L846.1,832.3 L847.1,836.5 L848.1,833.5 L849.1,836.5 L850.0,835.4 L851.0,836.9 L851.9,835.2 L852.9,836.1 L853.9,839.2 L854.9,838.8 L855.8,840.8 L856.8,839.7 L857.8,839.0 L858.8,838.7 L859.8,838.4 L860.7,839.2 L861.7,840.4 L862.6,838.2 L863.6,839.0 L864.6,837.2 L865.6,838.1 L866.7,837.4 L867.7,840.6 L868.8,837.4 L869.8,839.0 L870.9,840.1 L871.9,836.3 L873.0,836.0 L874.0,838.7 L875.1,834.3 L876.1,834.9 L877.2,832.9 L878.2,835.6 L879.2,832.3 L880.1,835.2 L881.1,833.2 L882.1,837.1 L883.0,834.6 L884.0,834.1 L885.0,835.6 L886.0,837.2 L887.0,840.0 L888.0,837.3 L889.2,836.1 L890.4,833.3 L891.4,838.1 L892.5,834.3 L893.5,830.3 L894.5,829.2 L895.5,830.9 L896.6,831.5 L897.6,829.9 L898.8,830.1 L900.0,827.3 L901.0,827.0 L902.0,828.7 L903.0,831.9 L904.0,831.5 L905.0,827.7 L906.0,827.8 L907.0,830.4 L908.0,830.1 L909.0,827.7 L910.0,828.6 L911.0,832.6 L912.0,832.8 L913.0,836.7 L914.0,837.8 L915.0,838.2 L916.0,832.4 L917.0,835.1 L918.0,837.3 L919.0,835.3 L920.0,838.1 L921.0,834.4 L922.0,832.7 L923.0,831.4 L924.0,831.3 L925.0,834.8 L926.0,831.1 L927.0,830.3 L928.0,828.1 L929.0,829.9 L930.0,828.3 L931.0,826.0 L932.0,825.1 L933.0,821.4 L934.0,823.3 L935.0,824.4 L936.0,825.1 L937.0,826.1 L938.0,822.9 L939.0,821.0 L940.0,827.2 L941.0,824.0 L942.0,821.3 L943.0,816.4 L944.0,816.1 L945.0,816.5 L946.0,814.3 L947.0,813.3 L948.0,804.8 L949.0,807.4 L950.0,809.4 L951.0,808.1 L952.0,807.3 L953.0,802.8 L954.0,805.2 L955.0,803.8 L956.0,800.0 L957.0,796.4 L958.0,800.4 L959.0,800.4 L960.0,798.2 L961.0,796.7 L962.0,797.0 L963.0,791.0 L964.0,791.2 L965.0,790.5 L966.0,784.6 L967.0,788.7 L968.0,788.3 L969.0,786.1 L970.0,784.2 L971.0,784.4 L972.0,783.4 L973.0,776.3 L974.0,777.7 L975.0,774.4 L976.0,770.5 L977.0,768.0 L978.0,765.2 L979.0,767.3 L980.0,765.1 L981.0,763.7 L982.0,758.3 L983.0,750.8 L984.0,754.2 L985.0,752.4 L986.0,751.1 L987.0,755.5 L988.0,752.0 L989.0,750.5 L990.0,748.9 L991.0,744.3 L992.0,745.4 L993.0,740.8 L994.0,733.0 L995.0,738.2 L996.0,736.4 L997.0,729.4 L998.0,724.6 L999.0,724.8 L1000.0,721.0 L1001.0,719.8 L1002.0,716.1 L1003.0,711.2 L1004.0,711.0 L1005.0,710.5 L1006.0,703.6 L1007.0,699.4 L1008.0,696.6 L1009.0,695.0 L1010.0,688.9 L1011.0,683.6 L1012.0,679.0 L1013.0,672.8 L1014.0,671.6 L1015.0,663.5 L1016.0,663.2 L1017.0,655.3 L1018.0,650.3 L1019.0,646.1 L1020.0,643.0 L1021.0,644.5 L1022.0,640.4 L1023.0,638.5 L1024.0,632.5 L1025.0,635.9 L1026.0,632.3 L1027.0,631.8 L1028.0,626.7 L1029.0,624.7 L1030.0,625.5 L1031.0,617.2 L1032.0,618.6 L1033.0,615.6 L1034.0,610.4 L1035.0,612.4 L1036.0,610.4 L1037.0,604.6 L1038.0,601.0 L1039.0,601.1 L1040.0,599.3 L1041.0,596.9 L1042.0,596.7 L1043.0,589.1 L1044.0,587.6 L1045.0,582.3 L1046.0,581.6 L1047.0,576.6 L1048.0,575.4 L1049.0,570.9 L1050.0,566.4 L1051.0,567.3 L1052.0,567.5 L1053.0,565.6 L1054.0,563.0 L1055.0,563.9 L1056.0,559.4 L1057.0,561.1 L1058.0,558.2 L1059.0,560.2 L1060.0,554.8 L1061.0,554.5 L1062.0,551.9 L1063.0,553.1 L1064.0,549.2 L1065.0,547.7 L1066.0,546.0 L1067.0,547.6 L1068.0,548.0 L1069.0,542.9 L1070.0,542.1 L1071.0,543.9 L1072.0,540.2 L1073.0,541.6 L1074.0,534.5 L1075.0,538.1 L1076.0,539.1 L1077.0,541.1 L1078.0,538.2 L1079.0,543.5 L1080.0,541.2 L1081.0,541.4 L1082.0,540.5 L1083.0,543.1 L1084.0,543.3 L1085.0,544.6 L1086.0,547.3 L1087.0,544.7 L1088.0,543.6 L1089.0,541.8 L1090.0,543.5 L1091.0,546.2 L1092.0,538.2 L1093.0,548.2 L1094.0,550.5 L1095.0,539.4 L1096.0,533.4 L1097.0,530.2 L1098.0,529.9 L1099.0,528.1 L1100.0,532.8 L1101.0,530.8 L1102.0,531.5 L1103.0,534.5 L1104.0,531.5 L1105.0,532.5 L1106.0,531.7 L1107.0,535.2 L1108.0,536.7 L1109.0,535.2 L1110.0,535.7 L1111.0,534.8 L1112.0,538.7 L1113.0,536.9 L1114.0,537.8 L1115.0,541.5 L1116.0,534.4 L1117.0,540.0 L1118.0,541.5 L1119.0,542.3 L1120.0,544.4 L1121.0,545.7 L1122.0,542.1 L1123.0,542.3 L1124.0,542.9 L1125.0,542.1 L1126.0,542.2 L1127.0,534.7 L1128.0,543.4 L1129.0,546.7 L1130.0,543.4 L1131.0,545.2 L1132.0,542.7 L1133.0,546.2 L1134.0,544.9 L1135.0,543.1 L1136.0,548.0 L1137.0,549.2 L1138.0,549.6 L1139.0,546.9 L1140.0,550.6 L1141.0,549.5 L1142.0,547.4 L1143.0,546.8 L1144.0,547.4 L1145.0,549.9 L1146.0,547.1 L1147.0,550.4 L1148.0,549.2 L1149.0,551.8 L1150.0,548.5 L1151.0,551.5 L1152.0,550.6 L1153.0,556.6 L1154.0,557.0 L1155.0,562.2 L1156.0,561.1 L1157.0,560.3 L1158.0,563.6 L1159.0,560.2 L1160.0,564.9 L1161.0,561.7 L1162.0,560.8 L1163.0,560.8 L1164.0,558.3 L1165.0,561.0 L1166.0,558.4 L1167.0,559.3 L1168.0,558.2 L1169.0,559.8 L1170.0,557.8 L1171.0,561.2 L1172.0,558.6 L1173.0,562.1 L1174.0,565.8 L1175.0,560.5 L1176.0,560.8 L1177.0,558.3 L1178.0,558.1 L1179.0,561.5 L1180.0,558.6 L1181.0,557.2 L1182.0,555.2 L1183.0,547.5 L1184.0,558.7 L1185.0,571.0 L1186.0,565.1 L1187.0,567.3 L1188.0,567.4 L1189.0,570.0 L1190.0,571.9 L1191.0,572.5 L1192.0,571.5 L1193.0,572.9 L1194.0,571.7 L1195.0,571.6 L1196.0,569.9 L1197.0,569.4 L1198.0,573.5 L1199.0,570.3 L1200.0,573.6 L1201.0,570.4 L1202.0,571.6 L1203.0,570.5 L1204.0,575.1 L1205.0,575.1 L1206.0,576.0 L1207.0,576.2 L1208.0,571.9 L1209.0,573.4 L1210.0,574.7 L1211.0,575.8 L1212.0,575.6 L1213.0,574.0 L1214.0,572.1 L1215.0,573.4 L1216.0,571.1 L1217.0,571.4 L1218.0,574.4 L1219.0,572.2 L1220.0,571.6 L1221.0,574.4 L1222.0,576.3 L1223.0,575.2 L1224.0,572.4 L1225.0,574.8 L1226.0,576.3 L1227.0,577.7 L1228.0,574.6 L1229.0,574.6 L1230.0,580.3 L1231.0,574.4 L1232.0,576.9 L1233.0,575.4 L1234.0,566.8 L1235.0,572.6 L1236.0,574.4 L1237.0,573.6 L1238.0,570.8 L1239.0,575.8 L1240.0,577.7 L1241.0,579.9 L1242.0,578.9 L1243.0,580.8 L1244.0,584.3 L1245.0,583.1 L1246.0,584.4 L1247.0,581.8 L1248.0,578.7 L1249.0,580.8 L1250.0,581.3 L1251.0,583.5 L1252.0,580.6 L1253.0,579.2 L1254.0,581.3 L1255.0,580.2 L1256.0,579.0 L1257.0,583.3 L1258.0,579.7 L1259.0,580.1 L1260.0,581.4 L1261.0,579.2 L1262.0,577.4 L1263.0,581.2 L1264.0,577.9 L1265.0,581.3 L1266.0,582.0 L1267.0,579.3 L1268.0,576.7 L1269.0,581.1 L1270.0,582.5 L1271.0,579.3 L1272.0,579.3 L1273.0,579.6 L1274.0,580.0 L1275.0,577.5 L1276.0,576.0 L1277.0,576.9 L1278.0,580.9 L1279.0,578.4 L1280.0,577.9 L1281.0,580.6 L1282.0,579.7 L1283.0,580.8 L1284.0,580.0 L1285.0,579.7 L1286.0,578.2 L1287.0,575.0 L1288.0,580.7 L1289.0,568.4 L1290.0,574.6 L1291.0,564.0 L1292.0,569.2 L1293.0,568.8 L1294.0,563.8 L1295.0,559.8 L1296.0,567.5 L1297.0,568.9 L1298.0,573.9 L1299.0,571.4 L1300.0,576.2 L1301.0,576.8 L1302.0,577.3 L1303.0,569.8 L1304.0,576.3 L1305.0,575.7 L1306.0,574.7 L1307.0,576.7 L1308.0,578.3 L1309.0,582.6 L1310.0,583.6 L1311.0,580.3 L1312.0,582.7 L1313.0,583.5 L1314.0,585.6 L1315.0,592.8 L1316.0,582.9 L1317.0,588.5 L1318.0,586.0 L1319.0,588.6 L1320.0,588.0 L1321.0,588.3 L1322.0,587.7 L1323.0,587.4 L1324.0,589.4 L1325.0,586.3 L1326.0,585.0 L1327.0,587.6 L1328.0,587.2 L1329.0,585.4 L1330.0,592.2 L1331.0,583.2 L1332.0,582.1 L1333.0,582.5 L1334.0,584.1 L1335.0,581.4 L1336.0,581.7 L1337.0,580.5 L1338.0,577.7 L1339.0,579.3 L1340.0,578.3 L1341.0,575.5 L1342.0,574.8 L1343.0,573.2 L1344.0,570.8 L1345.0,569.7 L1346.0,571.8 L1347.0,567.7 L1348.0,567.0 L1349.0,565.2 L1350.0,564.3 L1351.0,566.9 L1352.0,568.5 L1353.0,565.4 L1354.0,566.7 L1355.0,564.8 L1356.0,565.3 L1357.0,562.8 L1358.0,561.1 L1359.0,564.6 L1360.0,563.5 L1361.0,562.8 L1362.0,563.1 L1363.0,563.5 L1364.0,561.6 L1365.0,562.7 L1366.0,559.8 L1367.0,562.4 L1368.0,561.6 L1369.0,561.1 L1370.0,559.4 L1371.0,559.0 L1372.0,560.7 L1373.0,560.2 L1374.0,558.9 L1375.0,559.6 L1376.0,560.0 L1377.0,557.3 L1378.0,560.0 L1379.0,558.9 L1380.0,556.1 L1381.0,556.1 L1382.0,560.2 L1383.0,556.3 L1384.0,557.8 L1385.0,557.8 L1386.0,559.4 L1387.0,557.4 L1388.0,555.7 L1389.0,556.3 L1390.0,554.8 L1391.0,552.8 L1392.0,554.4 L1393.0,555.9 L1394.0,555.7 L1395.0,554.9 L1396.0,558.6 L1397.0,555.4 L1398.0,555.6 L1399.0,554.1 L1400.0,557.5 L1401.0,557.1 L1402.0,556.4 L1403.0,557.5 L1404.0,560.9 L1405.0,560.3 L1406.0,560.2 L1407.0,561.4 L1408.0,561.5 L1409.0,558.7 L1410.0,558.2 L1411.0,554.7 L1412.0,554.7 L1413.0,553.9 L1414.0,553.5 L1415.0,553.8 L1416.0,555.2 L1417.0,550.3 L1418.0,553.7 L1419.0,549.8 L1420.0,545.2 L1421.0,551.7 L1422.0,548.8 L1423.0,547.1 L1424.0,549.8 L1425.0,546.5 L1426.0,548.8 L1427.0,549.4 L1428.0,548.4 L1429.0,548.4 L1430.0,547.7 L1431.0,546.2 L1432.0,545.6 L1433.0,545.7 L1434.0,541.9 L1435.0,539.9 L1436.0,538.5 L1437.0,538.2 L1438.0,539.6 L1439.0,545.6 L1440.0,539.8 L1441.0,540.0 L1442.0,538.7 L1443.0,543.5 L1444.0,542.5 L1445.0,541.3 L1446.0,539.3 L1447.0,540.0 L1448.0,545.2 L1449.0,542.1 L1450.0,542.9 L1451.0,540.3 L1452.0,540.8 L1453.0,538.6 L1454.0,538.2 L1455.0,536.2 L1456.0,535.9 L1457.0,534.6 L1458.0,537.6 L1459.0,536.7 L1460.0,533.4 L1461.0,534.2 L1462.0,538.1 L1463.0,536.5 L1464.0,531.4 L1465.0,530.0 L1466.0,534.6 L1467.0,533.9 L1468.0,535.0 L1469.0,533.5 L1470.0,533.5 L1471.0,533.2 L1472.0,532.8 L1473.0,533.0 L1474.0,533.2 L1475.0,533.5 L1476.0,530.3 L1477.0,531.8 L1478.0,528.9 L1479.0,529.1 L1480.0,528.9 L1481.0,531.4 L1482.0,525.3 L1483.0,527.3 L1484.0,527.4 L1485.0,521.6 L1486.0,522.7 L1487.0,524.1 L1488.0,520.4 L1489.0,520.0 L1490.0,510.0 L1491.0,517.4 L1492.0,525.1 L1493.0,520.0 L1494.0,516.8 L1495.0,519.3 L1496.0,519.0 L1497.0,520.7 L1498.0,519.2 L1499.0,520.0 L1500.0,520.3 L1501.0,516.1 L1502.0,514.6 L1503.0,515.5 L1504.0,515.6 L1505.0,510.5 L1506.0,511.6 L1507.0,511.6 L1508.0,511.5 L1509.0,509.9 L1510.0,507.6 L1511.0,509.1 L1512.0,509.3 L1513.0,512.5 L1514.0,509.2 L1515.0,506.4 L1516.0,509.2 L1517.0,507.5 L1518.0,506.1 L1519.0,505.4 L1520.0,506.3 L1521.0,507.2 L1522.0,502.6 L1523.0,503.6 L1524.0,505.6 L1525.0,501.4 L1526.0,504.4 L1527.0,503.3 L1528.0,504.2 L1529.0,503.1 L1530.0,501.4 L1531.0,501.7 L1532.0,500.5 L1533.0,496.5 L1534.0,497.1 L1535.0,493.7 L1536.0,495.0 L1537.0,496.6 L1538.0,493.7 L1539.0,491.1 L1540.0,491.3 L1541.0,489.7 L1542.0,488.2 L1543.0,488.1 L1544.0,489.4 L1545.0,490.2 L1546.0,493.6 L1547.0,487.8 L1548.0,486.7 L1549.0,482.5 L1550.0,481.3 L1551.0,482.9 L1552.0,479.2 L1553.0,474.4 L1554.0,472.2 L1555.0,470.3 L1556.0,468.1 L1557.0,459.4 L1558.0,454.0 L1559.0,459.3 L1560.0,458.5 L1561.0,461.5 L1562.0,457.4 L1563.0,459.0 L1564.0,456.5 L1565.0,457.5 L1566.0,453.9 L1567.0,451.3 L1568.0,454.6 L1569.0,449.4 L1570.0,449.4 L1571.0,452.1 L1572.0,447.6 L1573.0,449.9 L1574.0,447.0 L1575.0,449.3 L1576.0,449.0 L1577.0,448.1 L1578.0,444.9 L1579.0,444.7 L1580.0,445.6 L1581.0,444.1 L1582.0,448.7 L1583.0,449.4 L1584.0,443.9 L1585.0,446.0 L1586.0,442.1 L1587.0,440.8 L1588.0,444.3 L1589.0,442.6 L1590.0,444.0 L1591.0,443.8 L1592.0,444.8 L1593.0,444.5 L1594.0,446.6 L1595.0,444.9 L1596.0,444.3 L1597.0,445.0 L1598.0,446.4 L1599.0,449.4 L1600.0,455.9 L1601.0,451.1 L1602.0,449.7 L1603.0,448.8 L1604.0,449.8 L1605.0,454.1 L1606.0,450.6 L1607.0,457.8 L1608.0,453.6 L1609.0,451.9 L1610.0,453.9 L1611.0,452.6 L1612.0,455.4 L1613.0,455.7 L1614.0,454.8 L1615.0,454.4 L1616.0,458.0 L1617.0,450.5 L1618.0,456.8 L1619.0,456.4 L1620.0,458.4 L1621.0,460.8 L1622.0,461.7 L1623.0,460.8 L1624.0,459.4 L1625.0,461.4 L1626.0,465.4 L1627.0,462.4 L1628.0,465.0 L1629.0,465.2 L1630.0,469.0 L1631.0,466.9 L1632.0,469.8 L1633.0,470.1 L1634.0,469.2 L1635.0,473.5 L1636.0,472.4 L1637.0,473.3 L1638.0,472.5 L1639.0,477.9 L1640.0,477.4 L1641.0,484.5 L1642.0,479.3 L1643.0,478.6 L1644.0,478.3 L1645.0,483.8 L1646.0,482.2 L1647.0,486.0 L1648.0,488.5 L1649.0,490.9 L1650.0,488.0 L1651.0,490.7 L1652.0,491.0 L1653.0,492.7 L1654.0,494.9 L1655.0,493.9 L1656.0,497.9 L1657.0,500.0 L1658.0,499.0 L1659.0,502.2 L1660.0,501.3 L1661.0,504.9 L1662.0,504.3 L1663.0,506.8 L1664.0,510.8 L1665.0,513.3 L1666.0,509.9 L1667.0,514.8 L1668.0,512.4 L1669.0,514.6 L1670.0,514.2 L1671.0,510.7 L1672.0,517.6 L1673.0,519.3 L1674.0,519.4 L1675.0,522.1 L1676.0,517.9 L1677.0,517.6 L1678.0,521.6 L1679.0,519.2 L1680.0,520.1 L1681.0,521.8 L1682.0,526.0 L1683.0,528.4 L1684.0,530.3 L1685.0,532.4 L1686.0,531.7 L1687.0,532.5 L1688.0,535.1 L1689.0,536.2 L1690.0,540.0 L1691.0,541.2 L1692.0,541.2 L1693.0,544.3 L1694.0,547.4 L1695.0,548.1 L1696.0,549.0 L1697.0,551.3 L1698.0,551.1 L1699.0,557.0 L1700.0,557.9 L1701.0,557.4 L1702.0,558.3 L1703.0,563.5 L1704.0,560.8 L1705.0,562.6 L1706.0,562.8 L1707.0,569.0 L1708.0,567.4 L1709.0,569.6 L1710.0,573.0 L1711.0,575.1 L1712.0,575.7 L1713.0,576.5 L1714.0,577.4 L1715.0,578.8 L1716.0,583.3 L1717.0,580.2 L1718.0,582.6 L1719.0,581.0 L1720.0,584.2 L1721.0,584.2 L1722.0,586.5 L1723.0,588.0 L1724.0,591.6 L1725.0,592.9 L1726.0,597.0 L1727.0,596.8 L1728.0,597.1 L1729.0,599.8 L1730.0,598.8 L1731.0,601.5 L1732.0,606.3 L1733.0,605.3 L1734.0,604.7 L1735.0,610.0 L1736.0,613.3 L1737.0,612.5 L1738.0,612.8 L1739.0,614.3 L1740.0,613.4 L1741.0,613.3 L1742.0,615.2 L1743.0,612.6 L1744.0,613.9 L1745.0,615.3 L1746.0,620.3 L1747.0,620.5 L1748.0,625.6 L1749.0,626.2 L1750.0,626.5 L1751.0,632.8 L1752.0,633.4 L1753.0,637.5 L1754.0,639.8 L1755.0,642.6 L1756.0,639.8 L1757.0,642.2 L1758.0,641.9 L1759.0,645.2 L1760.0,645.3 L1761.0,632.0 L1762.0,620.5 L1763.0,620.5 L1764.0,626.0 L1765.0,628.2 L1766.0,629.4 L1767.0,630.2 L1768.0,633.5 L1769.0,636.2 L1770.0,636.0 L1771.0,641.7 L1772.0,641.3 L1773.0,645.7 L1774.0,649.2 L1775.0,652.4 L1776.0,653.3 L1777.0,655.8 L1778.0,663.2 L1779.0,663.4 L1780.0,665.0 L1781.0,664.6 L1782.0,669.0 L1783.0,670.7 L1784.0,677.1 L1785.0,677.7 L1786.0,681.2 L1787.0,681.5 L1788.0,687.9 L1789.0,691.9 L1790.0,692.5 L1791.0,694.3 L1792.0,700.9 L1793.0,704.4 L1794.0,697.4 L1795.0,693.0 L1796.0,691.8 L1797.0,689.3 L1798.0,688.9 L1799.0,691.8 L1800.0,700.0 L1801.0,698.4 L1802.0,698.8 L1803.0,698.2 L1804.0,700.3 L1805.0,700.4 L1806.0,705.9 L1807.0,706.5 L1808.0,710.2 L1809.0,710.0 L1810.0,711.7 L1811.0,692.6 L1812.0,675.9 L1813.0,677.6 L1814.0,680.6 L1815.0,683.6 L1816.0,684.0 L1817.0,687.8 L1818.0,692.4 L1819.0,693.7 L1820.0,695.1 L1821.0,697.6 L1822.0,700.9 L1823.0,698.3 L1824.0,706.2 L1825.0,708.6 L1826.0,710.6 L1827.0,712.6 L1828.0,712.7 L1829.0,715.5 L1830.0,720.8 L1831.0,721.4 L1832.0,724.9 L1833.0,727.5 L1834.0,728.5 L1835.0,729.9 L1836.0,733.5 L1837.0,739.8 L1838.0,745.8 L1839.0,742.4 L1840.0,736.9 L1841.0,740.4 L1842.0,733.6 L1843.0,738.0 L1844.0,738.1 L1845.0,742.5 L1846.0,745.1 L1847.0,745.5 L1848.0,744.7 L1849.0,748.9 L1850.0,748.4 L1851.0,745.7 L1852.0,746.2 L1853.0,748.0 L1854.0,750.1 L1855.0,757.2 L1856.0,754.9 L1857.0,757.6 L1858.0,754.9 L1859.0,757.0 L1860.0,759.6 L1861.0,761.7 L1862.0,763.4 L1863.0,761.9 L1864.0,765.1 L1865.0,768.2 L1866.0,767.6 L1867.0,767.0 L1868.0,768.4 L1869.0,765.7 L1870.0,768.9 L1871.0,768.8 L1872.0,770.9 L1873.0,768.7 L1874.0,769.8 L1875.0,772.3 L1876.0,770.6 L1877.0,770.4 L1878.0,772.4 L1879.0,775.0 L1880.0,774.5 L1881.0,777.7" stroke="#95b3d7" stroke-width="5.0" fill="none" stroke-linejoin="round" stroke-linecap="round"/>
<rect x="1182.5" y="521" width="110" height="37.5" fill="none" stroke="#5178ad" stroke-width="1.6"/>
<text x="1194.70" y="545.8" font-size="17" font-weight="bold" fill="#1f3864" textLength="73.11" lengthAdjust="spacingAndGlyphs">Overcast</text>
<rect x="1071.8" y="817.5" width="87.5" height="39" fill="none" stroke="#d99594" stroke-width="1.6"/>
<text x="1083.82" y="842.2" font-size="17.4" font-weight="bold" fill="#943634" textLength="51.07" lengthAdjust="spacingAndGlyphs">Sunny</text>
<path d="M1381.2,564.2 V998.2 M1381.2,746.9 H1410.5" stroke="#777" stroke-width="2.2" fill="none"/>
<path d="M1352.5,564.2 H1381.5 M1352.5,998.2 H1381.5" stroke="#222" stroke-width="1.6" fill="none"/>
<text x="1414.89" y="751.9" font-size="17.4" fill="#111" textLength="68.92" lengthAdjust="spacingAndGlyphs">303 MW</text>
</svg></body></html>
